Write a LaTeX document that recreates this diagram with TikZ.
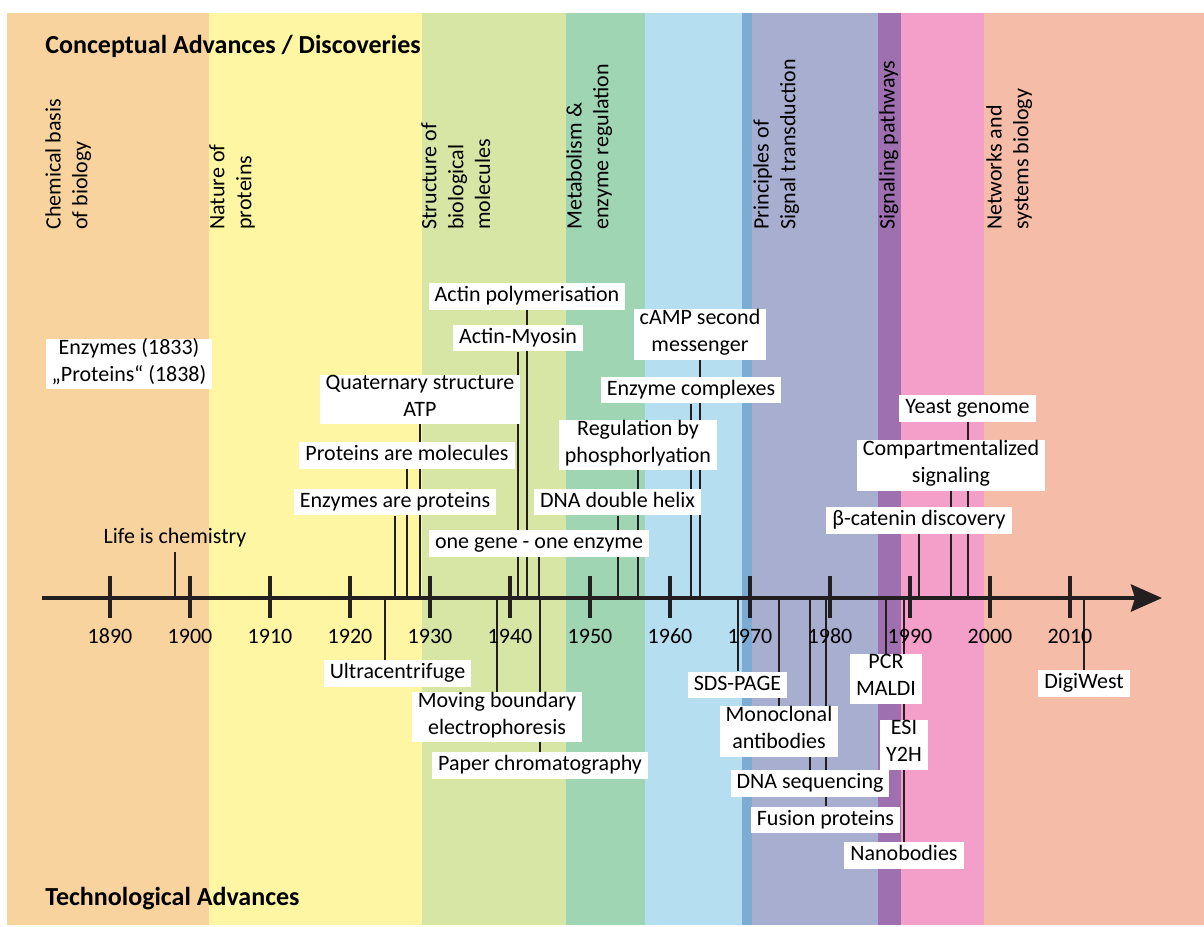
\documentclass[tikz,border=0pt]{standalone}
\usepackage{fontspec}
\setmainfont{Carlito}
\usepackage{tikz}
\usetikzlibrary{positioning,arrows.meta}
\pgfdeclarelayer{bands}
\pgfdeclarelayer{links}
\pgfsetlayers{bands,links,main}

\definecolor{bandorange}{HTML}{F9D39E}
\definecolor{bandyellow}{HTML}{FEF6A2}
\definecolor{bandlime}{HTML}{D7E6A5}
\definecolor{bandteal}{HTML}{9FD5B3}
\definecolor{bandsky}{HTML}{B5DFF1}
\definecolor{bandblue}{HTML}{7CACD4}
\definecolor{bandlavender}{HTML}{A8AED0}
\definecolor{bandpurple}{HTML}{9E70B0}
\definecolor{bandpink}{HTML}{F49FCA}
\definecolor{bandsalmon}{HTML}{F5BCA7}
\definecolor{axisblack}{HTML}{231F20}

\begin{document}
\begin{tikzpicture}[
  x=0.5pt, y=-0.5pt,
  every node/.style={font=\fontsize{11}{13.4}\selectfont},
  event/.style={fill=white, inner xsep=3pt, inner ysep=0pt, align=center,
                execute at begin node=\strut, execute at end node=\strut},
  bare/.style={event, fill=none},
  period/.style={rotate=90, anchor=north west, inner sep=0pt, align=left},
  heading/.style={anchor=base west, inner sep=0pt,
                  font=\fontsize{13}{15}\selectfont\bfseries},
  yearlbl/.style={anchor=base, inner sep=0pt},
  link/.style={line width=1pt, draw=axisblack},
  major/.style={line width=2pt, draw=axisblack},
  axisline/.style={line width=2pt, draw=axisblack,
                   -{Stealth[length=15.5pt, width=13.5pt, inset=2pt]}},
]
  \useasboundingbox (0,0) rectangle (1204,926);

  % Period bands
  \begin{pgfonlayer}{bands}
    \fill[white] (0,0) rectangle (1204,926);
    \foreach \xa/\xb/\c in {7/209/bandorange, 209/422/bandyellow,
        422/566/bandlime, 566/645/bandteal, 645/742/bandsky,
        742/752/bandblue, 752/878/bandlavender, 878/901/bandpurple,
        901/984/bandpink, 984/1204/bandsalmon}
      \fill[\c] (\xa,13) rectangle (\xb,925);
  \end{pgfonlayer}

  % Headings
  \node[heading] (concept) at (45,53) {Conceptual Advances / Discoveries};
  \node[heading] (techno) at (45,905) {Technological Advances};

  % Periods
  \node[period] (chem) at (45,230) {Chemical basis\\of biology};
  \node[period] (nature) at (209,230) {Nature of\\proteins};
  \node[period] (struct) at (421,230) {Structure of\\biological\\molecules};
  \node[period] (metab) at (566,230) {Metabolism \&\\enzyme regulation};
  \node[period] (princ) at (753,230) {Principles of\\Signal transduction};
  \node[period] (signal) at (879,230) {Signaling pathways};
  \node[period] (netw) at (986,230) {Networks and\\systems biology};

  % Timeline
  \coordinate (ax) at (0,598);
  \coordinate (axstart) at (42,598);
  \coordinate (axend) at (1162,598);
  \draw[axisline] (axstart) -- (axend);
  \foreach \y in {1890,1900,...,2010} {
    \draw[major] ({110+(\y-1890)*8},576) -- ({110+(\y-1890)*8},618);
    \node[yearlbl] (yr\y) at ({110+(\y-1890)*8},643) {\y};
  }

  % Conceptual advances
  \node[event] (enzy) at (129,364) {Enzymes (1833)\\„Proteins“ (1838)};
  \node[bare] (lifechem) at (175,538) {Life is chemistry};
  \node[event] (actinpol) at (527,296.5) {Actin polymerisation};
  \node[event] (actinmyo) at (518,338) {Actin-Myosin};
  \node[event] (quat) at (420,399.5) {Quaternary structure\\ATP};
  \node[event] (protmol) at (407,455.5) {Proteins are molecules};
  \node[event] (enzprot) at (395,502) {Enzymes are proteins};
  \node[event] (onegene) at (539,543.5) {one gene - one enzyme};
  \node[event] (dnahelix) at (617.5,502) {DNA double helix};
  \node[event] (regphos) at (638,445) {Regulation by\\phosphorlyation};
  \node[event] (enzcomp) at (691,390) {Enzyme complexes};
  \node[event] (camp) at (700,334.5) {cAMP second\\messenger};
  \node[event] (yeast) at (967.5,408.5) {Yeast genome};
  \node[event] (compart) at (951,465.5) {Compartmentalized\\signaling};
  \node[event] (bcat) at (919,520.5) {β-catenin discovery};

  % Technological advances
  \node[event] (ultra) at (397.5,673.5) {Ultracentrifuge};
  \node[event] (moving) at (497,717) {Moving boundary\\electrophoresis};
  \node[event] (paper) at (540,765.5) {Paper chromatography};
  \node[event] (sds) at (737.5,685) {SDS-PAGE};
  \node[event] (mono) at (779,731.5) {Monoclonal\\antibodies};
  \node[event] (dnaseq) at (810,783.5) {DNA sequencing};
  \node[event] (fusion) at (825.5,820) {Fusion proteins};
  \node[event] (pcr) at (886,679) {PCR\\MALDI};
  \node[event] (esi) at (904,745) {ESI\\Y2H};
  \node[event] (nano) at (904,855.5) {Nanobodies};
  \node[event] (digi) at (1084,683.5) {DigiWest};
  \coordinate (ultrax) at (385,598);

  % Event lines
  \begin{pgfonlayer}{links}
    \foreach \n in {lifechem,actinpol,actinmyo,quat,protmol,enzprot,onegene,
        dnahelix,regphos,enzcomp,camp,yeast,compart,bcat}
      \draw[link] (\n.south) -- (\n.south |- ax);
    \foreach \n in {moving,paper,sds,mono,dnaseq,fusion,pcr,esi,nano,digi}
      \draw[link] (ax -| \n.north) -- (\n.north);
    \draw[link] (ultrax) -- (ultrax |- ultra.north);
  \end{pgfonlayer}
\end{tikzpicture}
\end{document}
